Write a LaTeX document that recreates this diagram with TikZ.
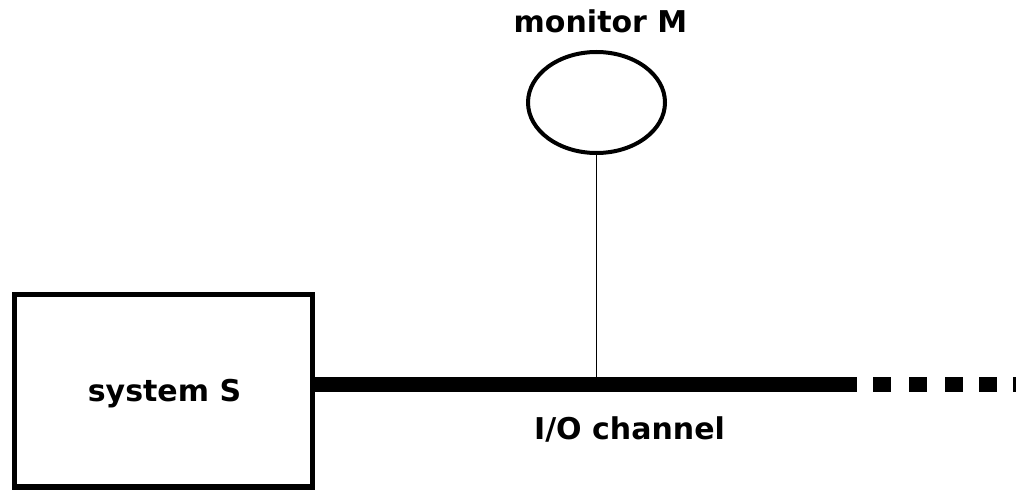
\documentclass[tikz,border=0pt]{standalone}
\usepackage{fontspec}
\setmainfont{DejaVu Sans}
\usetikzlibrary{shapes.geometric}
\tikzset{
  unitbox/.style={draw, line width=5.5pt, minimum width=298pt, minimum height=192.5pt, inner sep=0pt},
  probe/.style={draw, ellipse, line width=4pt, minimum width=137pt, minimum height=101pt, inner sep=0pt},
  tag/.style={font=\fontsize{30}{36}\selectfont\bfseries, anchor=base, inner sep=0pt},
  bus/.style={line width=15pt},
}

\begin{document}
\begin{tikzpicture}[x=1pt, y=-1pt]
    \useasboundingbox (0,0) rectangle (1016,492);

    % System and monitor
    \node[unitbox] (sys) at (163.5,390.75) {};
    \node[probe] (mon) at (596.5,102.5) {};

    % I/O channel
    \coordinate (busend) at (857,384.5);
    \draw[bus] (sys.east |- busend) -- (busend);
    \foreach \x in {873,909,945,979,1013}{
      \fill (\x,377) rectangle ++(18,15);
    }

    % Tap from monitor
    \draw[line width=1.2pt] (mon.south) -- (mon.south |- busend);

    % Labels
    \node[tag] (monlab) at (600.5,33) {monitor M};
    \node[tag] (syslab) at (164.5,401) {system S};
    \node[tag] (buslab) at (629.5,439) {I/O channel};
\end{tikzpicture}
\end{document}
